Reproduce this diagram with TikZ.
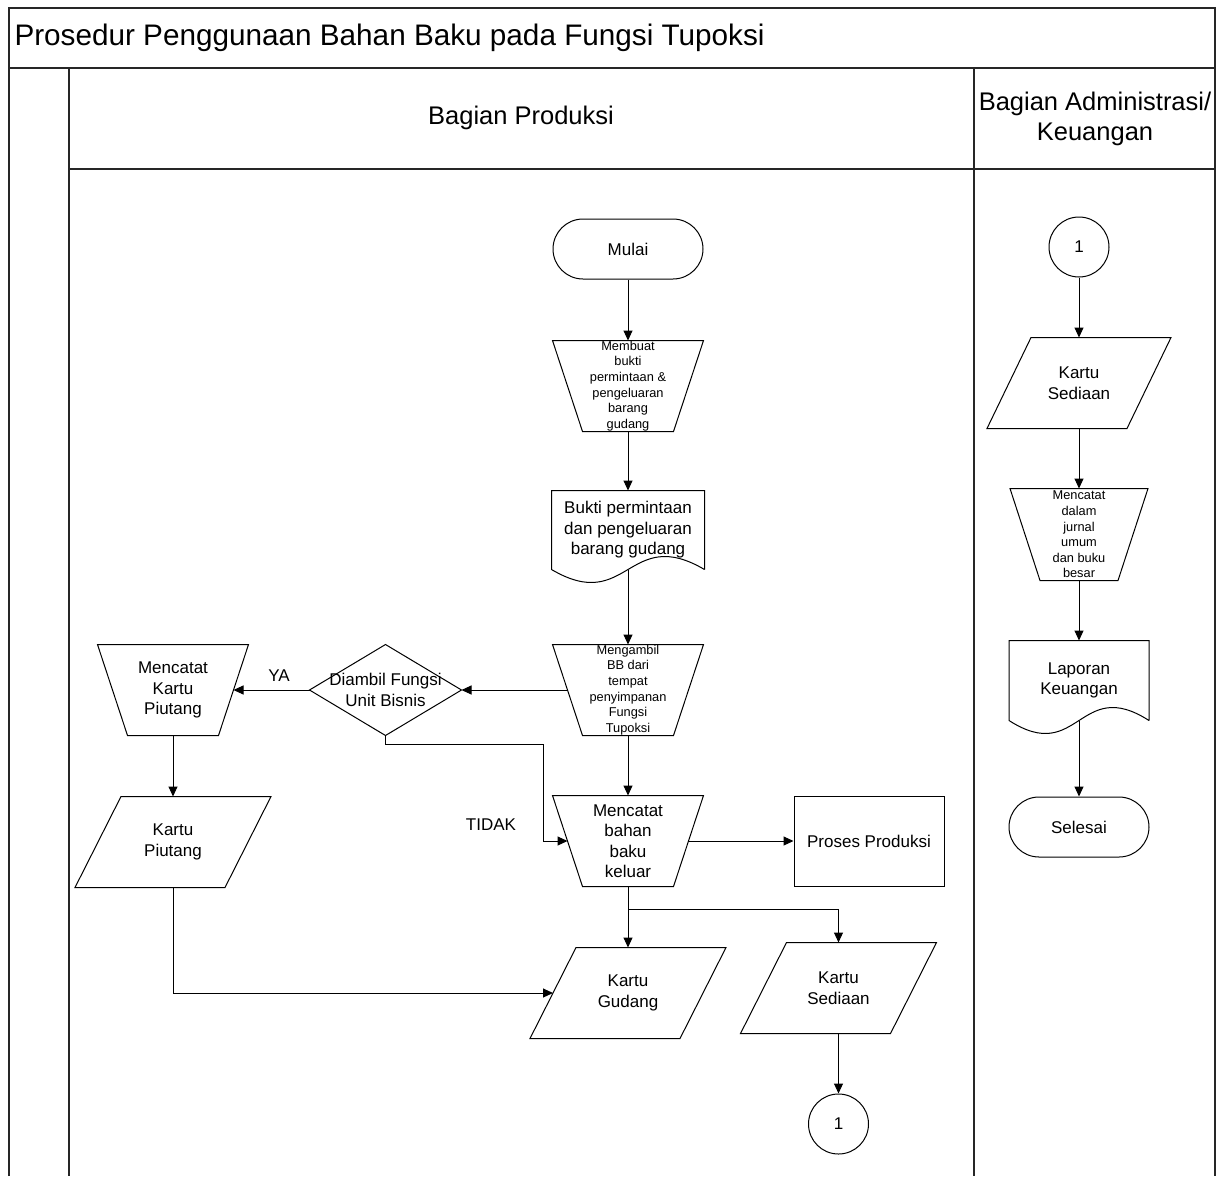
\documentclass[tikz,border=0pt]{standalone}
\usepackage{fontspec}
\setmainfont{Liberation Sans}
\usetikzlibrary{arrows.meta, positioning}

\tikzset{
  every node/.style={font=\fontsize{17}{20.5}\selectfont, align=center, inner sep=0pt},
  box/.style={minimum width=150pt, minimum height=90pt},
  term/.style={draw, rounded corners=30pt, minimum width=150pt, minimum height=60pt},
  conn/.style={draw, circle, minimum size=60pt},
  proc/.style={draw, box},
  smalltext/.style={font=\fontsize{12.8}{15.6}\selectfont},
  lane/.style={line width=1.6pt, draw=black!85},
}

% outlines drawn round the named boxes
\newcommand\manop[1]{\draw (#1.north west) -- (#1.north east) -- ([xshift=-30pt]#1.south east) -- ([xshift=30pt]#1.south west) -- cycle;}
\newcommand\datain[2]{\draw ([xshift=#2]#1.north west) -- (#1.north east) -- ([xshift=-#2]#1.south east) -- (#1.south west) -- cycle;}
\newcommand\docu[1]{\draw (#1.south east) -- (#1.north east) -- (#1.north west) -- (#1.south west) .. controls ([yshift=-45pt]#1.south) and ([yshift=45pt]#1.south) .. (#1.south east);}
\newcommand\decide[1]{\draw (#1.north) -- (#1.east) -- (#1.south) -- (#1.west) -- cycle;}

\begin{document}
\begin{tikzpicture}[x=1pt, y=-1pt, line width=1pt, >={Triangle[length=10pt, width=9pt]}]
  \useasboundingbox (0,0) rectangle (1224,1176);
  % frame and lanes
  \draw[lane] (9,1176) -- (9,8) -- (1215,8) -- (1215,1176);
  \draw[lane] (9,68) -- (1215,68);
  \draw[lane] (69,68) -- (69,1176);
  \draw[lane] (974,68) -- (974,1176);
  \draw[lane] (69,169) -- (1215,169);
  \node[anchor=west, font=\fontsize{29.7}{34}\selectfont] (title) at (14,38) {Prosedur Penggunaan Bahan Baku pada Fungsi Tupoksi};
  \node[font=\fontsize{25.5}{30}\selectfont] (produksi) at (521,118) {Bagian Produksi};
  \node[font=\fontsize{25.5}{30}\selectfont] (admin) at (1095,119) {Bagian Administrasi/\\Keuangan};

  % Bagian Produksi
  \node[term] (mulai) at (628,249) {Mulai};
  \node[box, smalltext, below=61pt of mulai] (membuat) {Membuat\\bukti\\permintaan \&\\pengeluaran\\barang\\gudang};
  \node[box, minimum width=152pt, minimum height=78pt, below=59pt of membuat] (bukti) {Bukti permintaan\\dan pengeluaran\\barang gudang};
  \node[box, smalltext, below=75pt of bukti] (mengambil) {Mengambil\\BB dari\\tempat\\penyimpanan\\Fungsi\\Tupoksi};
  \node[box, below=60pt of mengambil] (catat) {Mencatat\\bahan\\baku\\keluar};
  \node[proc, right=90pt of catat] (proses) {Proses Produksi};
  \node[box, minimum width=195pt, below=61pt of catat] (gudang) {Kartu\\Gudang};
  \node[box, minimum width=195pt] (sediaan) at (838.5,988) {Kartu\\Sediaan};
  \node[conn, below=60pt of sediaan] (konektor) {1};
  \node[box, minimum width=151pt, left=91pt of mengambil] (dec) {Diambil Fungsi\\Unit Bisnis};
  \node[box, left=61pt of dec] (piutang) {Mencatat\\Kartu\\Piutang};
  \node[box, minimum width=195pt, below=61pt of piutang] (kpiutang) {Kartu\\Piutang};
  \node (tidak) at (491,825) {TIDAK};

  % Bagian Administrasi/Keuangan
  \node[conn] (c1) at (1079,247) {1};
  \node[box, minimum width=183pt, below=60pt of c1] (ksediaan) {Kartu\\Sediaan};
  \node[box, smalltext, minimum width=137pt, minimum height=91pt, below=60pt of ksediaan] (jurnal) {Mencatat\\dalam\\jurnal\\umum\\dan buku\\besar};
  \node[box, minimum width=139pt, minimum height=79pt, below=60pt of jurnal] (laporan) {Laporan\\Keuangan};
  \node[term, minimum width=140pt, below=76pt of laporan] (selesai) {Selesai};

  \manop{membuat}
  \docu{bukti}
  \manop{mengambil}
  \manop{catat}
  \datain{gudang}{46pt}
  \datain{sediaan}{46pt}
  \decide{dec}
  \manop{piutang}
  \datain{kpiutang}{46pt}
  \datain{ksediaan}{44pt}
  \manop{jurnal}
  \docu{laporan}

  \draw[->] (mulai) -- (membuat);
  \draw[->] (membuat) -- (bukti);
  \draw[->] (bukti) -- (mengambil);
  \draw[->] (mengambil) -- (catat);
  \draw[->] ([xshift=15pt]mengambil.west) -- (dec.east);
  \draw[->] (dec.west) -- node[pos=0.4, above=8pt] (ya) {YA} ([xshift=-15pt]piutang.east);
  \draw[->] (dec.south) -- ++(0,9) -- ++(158,0) |- ([xshift=15pt]catat.west);
  \draw[->] ([xshift=-15pt]catat.east) -- (proses);
  \draw[->] (catat) -- (gudang);
  \draw[->] ([yshift=-23pt]catat.south) -| (sediaan);
  \draw[->] (sediaan) -- (konektor);
  \draw[->] (piutang) -- (kpiutang);
  \draw[->] (kpiutang) |- ([xshift=23pt]gudang.west);
  \draw[->] (c1) -- (ksediaan);
  \draw[->] (ksediaan) -- (jurnal);
  \draw[->] (jurnal) -- (laporan);
  \draw[->] (laporan) -- (selesai);
\end{tikzpicture}
\end{document}
